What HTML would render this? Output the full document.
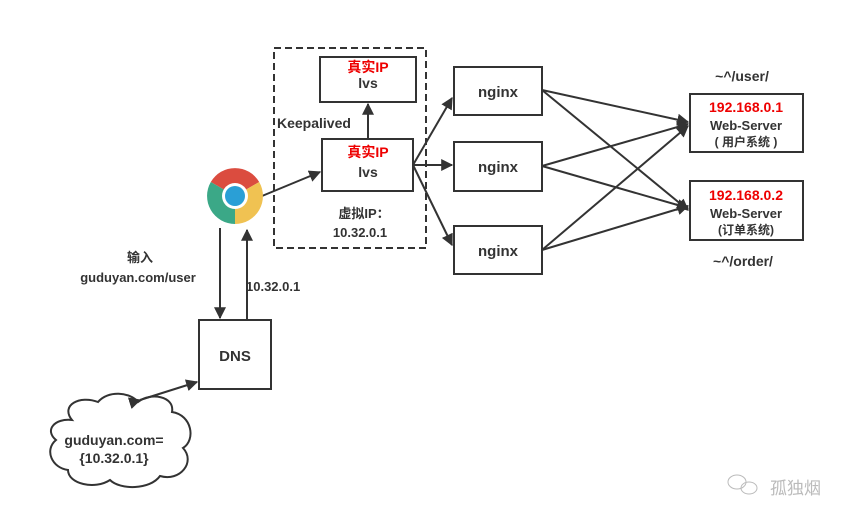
<!DOCTYPE html>
<html><head><meta charset="utf-8"><style>
html,body{margin:0;padding:0;background:#fff;}
svg{display:block;}
text{font-family:"Liberation Sans","Noto Sans CJK SC",sans-serif;font-weight:bold;fill:#333;}
</style></head><body>
<svg width="858" height="525" viewBox="0 0 858 525" xmlns="http://www.w3.org/2000/svg">
<defs>
<marker id="a" viewBox="0 0 10 10" refX="9" refY="5" markerWidth="7" markerHeight="7" orient="auto-start-reverse" markerUnits="userSpaceOnUse"><path d="M0,0 L10,5 L0,10 z" fill="#333"/></marker>
<marker id="b" viewBox="0 0 10 10" refX="9" refY="5" markerWidth="12" markerHeight="12" orient="auto" markerUnits="userSpaceOnUse"><path d="M0,0 L10,5 L0,10 z" fill="#333"/></marker>
</defs>
<g stroke="#333" stroke-width="2" fill="none">
<rect x="274" y="48" width="152" height="200" stroke-dasharray="7,4"/>
<rect x="320" y="57" width="96" height="45" fill="#fff"/>
<rect x="322" y="139" width="91" height="52" fill="#fff"/>
<rect x="454" y="67" width="88" height="48"/>
<rect x="454" y="142" width="88" height="49"/>
<rect x="454" y="226" width="88" height="48"/>
<rect x="690" y="94" width="113" height="58"/>
<rect x="690" y="181" width="113" height="59"/>
<rect x="199" y="320" width="72" height="69"/>
<line x1="368" y1="139" x2="368" y2="104" marker-end="url(#b)"/>
<line x1="262" y1="196" x2="320" y2="172" marker-end="url(#b)"/>
<line x1="413" y1="165" x2="452" y2="98" marker-end="url(#b)"/>
<line x1="413" y1="165" x2="452" y2="165" marker-end="url(#b)"/>
<line x1="413" y1="165" x2="452" y2="245" marker-end="url(#b)"/>
<line x1="542" y1="90" x2="688" y2="122" marker-end="url(#b)"/>
<line x1="542" y1="90" x2="688" y2="210" marker-end="url(#b)"/>
<line x1="542" y1="166" x2="688" y2="124" marker-end="url(#b)"/>
<line x1="542" y1="166" x2="688" y2="208" marker-end="url(#b)"/>
<line x1="542" y1="250" x2="688" y2="126" marker-end="url(#b)"/>
<line x1="542" y1="250" x2="688" y2="206" marker-end="url(#b)"/>
<line x1="220" y1="228" x2="220" y2="318" marker-end="url(#b)"/>
<line x1="247" y1="320" x2="247" y2="230" marker-end="url(#b)"/>
<line x1="140" y1="400" x2="197" y2="382" marker-start="url(#b)" marker-end="url(#b)"/>
<path d="M72,420 C60,405 80,395 98,402 C108,390 130,392 138,402 C150,392 175,396 172,412 C192,415 196,440 183,448 C196,462 180,482 160,476 C150,490 120,490 110,480 C95,490 68,484 68,470 C52,468 44,450 56,440 C44,430 55,418 72,420 Z"/>
</g>
<path d="M235,196 L210.8,182 A28,28 0 0 1 259.2,182 Z" fill="#db4c3f"/>
<path d="M235,196 L259.2,182 A28,28 0 0 1 235,224 Z" fill="#f0c252"/>
<path d="M235,196 L235,224 A28,28 0 0 1 210.8,182 Z" fill="#3ba887"/>
<circle cx="235" cy="196" r="13" fill="#fff"/>
<circle cx="235" cy="196" r="10" fill="#2a9fd6"/>
<text x="368" y="72" font-size="14" text-anchor="middle" style="fill:#e00">真实IP</text>
<text x="368" y="88" font-size="14" text-anchor="middle">lvs</text>
<text x="368" y="157" font-size="14" text-anchor="middle" style="fill:#e00">真实IP</text>
<text x="368" y="177" font-size="14" text-anchor="middle">lvs</text>
<text x="277" y="128" font-size="14">Keepalived</text>
<text x="364" y="218" font-size="13" text-anchor="middle">虚拟IP：</text>
<text x="360" y="237" font-size="13" text-anchor="middle">10.32.0.1</text>
<text x="498" y="97" font-size="15" text-anchor="middle">nginx</text>
<text x="498" y="172" font-size="15" text-anchor="middle">nginx</text>
<text x="498" y="256" font-size="15" text-anchor="middle">nginx</text>
<text x="746" y="112" font-size="14" text-anchor="middle" style="fill:#e00">192.168.0.1</text>
<text x="746" y="130" font-size="13" text-anchor="middle">Web-Server</text>
<text x="746" y="146" font-size="12" text-anchor="middle">( 用户系统 )</text>
<text x="746" y="200" font-size="14" text-anchor="middle" style="fill:#e00">192.168.0.2</text>
<text x="746" y="218" font-size="13" text-anchor="middle">Web-Server</text>
<text x="746" y="234" font-size="12" text-anchor="middle">(订单系统)</text>
<text x="742" y="81" font-size="14" text-anchor="middle">~^/user/</text>
<text x="743" y="266" font-size="14" text-anchor="middle">~^/order/</text>
<text x="140" y="262" font-size="13" text-anchor="middle">输入</text>
<text x="138" y="282" font-size="13" text-anchor="middle">guduyan.com/user</text>
<text x="246" y="291" font-size="13">10.32.0.1</text>
<text x="235" y="361" font-size="15" text-anchor="middle">DNS</text>
<text x="114" y="445" font-size="14" text-anchor="middle">guduyan.com=</text>
<text x="114" y="463" font-size="14" text-anchor="middle">{10.32.0.1}</text>
<g stroke="#bbb" stroke-width="1" fill="none"><ellipse cx="737" cy="482" rx="9" ry="7"/><ellipse cx="749" cy="488" rx="8" ry="6"/></g>
<text x="770" y="494" font-size="17" style="fill:#bbb;font-weight:normal">孤独烟</text>
</svg>
</body></html>
